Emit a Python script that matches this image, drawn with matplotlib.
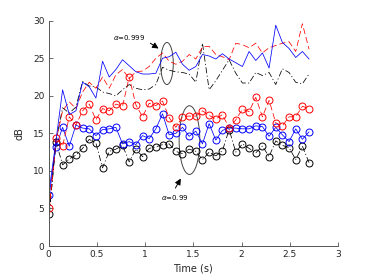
import matplotlib
matplotlib.use("Agg")
import matplotlib.pyplot as plt
from matplotlib.patches import Ellipse

time_s = [0.008, 0.077, 0.146, 0.215, 0.284, 0.353, 0.422, 0.491, 0.560, 0.629,
          0.698, 0.767, 0.836, 0.905, 0.974, 1.043, 1.112, 1.181, 1.250, 1.319,
          1.388, 1.457, 1.526, 1.595, 1.664, 1.733, 1.802, 1.871, 1.940, 2.009,
          2.078, 2.147, 2.216, 2.285, 2.354, 2.423, 2.492, 2.561, 2.630, 2.699]

# alpha = 0.999 (no markers)
blue_999 = [7.5, 14.0, 20.8, 17.5, 18.0, 21.8, 21.2, 19.7, 24.6, 22.5,
            23.5, 24.8, 24.0, 23.2, 22.9, 22.9, 23.0, 25.0, 25.2, 25.8,
            24.2, 23.4, 23.9, 25.5, 25.3, 24.9, 25.6, 24.9, 24.4, 23.9,
            25.9, 24.7, 25.7, 23.7, 29.4, 27.1, 26.3, 25.1, 25.9, 24.9]
red_999 = [5.0, 14.0, 18.0, 19.2, 18.3, 20.5, 21.8, 21.0, 22.5, 21.0,
           22.8, 23.5, 22.3, 23.2, 23.3, 23.9, 25.0, 25.7, 24.6, 24.2,
           24.6, 25.5, 24.9, 26.5, 26.6, 25.5, 25.2, 24.8, 27.0, 26.8,
           26.4, 27.0, 25.7, 26.4, 26.7, 27.0, 27.2, 25.9, 29.6, 26.2]
black_999 = [4.3, 14.0, 18.4, 17.7, 18.5, 21.9, 21.3, 21.2, 20.5, 20.3,
             20.0, 20.8, 21.5, 21.0, 20.8, 20.9, 21.5, 23.8, 23.4, 23.2,
             23.1, 22.9, 21.8, 27.0, 20.8, 22.0, 23.4, 24.8, 23.0, 21.7,
             21.7, 23.1, 22.7, 23.1, 21.5, 23.6, 23.1, 21.8, 21.6, 22.9]

# alpha = 0.99 (circle markers)
red_99 = [5.0, 14.4, 13.3, 17.2, 16.1, 18.0, 18.9, 16.8, 18.3, 18.0,
          18.9, 18.6, 22.5, 18.8, 17.2, 19.0, 18.7, 19.3, 17.1, 15.8,
          17.2, 17.3, 17.3, 18.0, 17.4, 16.9, 17.5, 15.7, 16.8, 18.2,
          17.9, 19.8, 17.2, 19.4, 16.4, 16.0, 17.2, 17.2, 18.6, 18.3]
blue_99 = [6.8, 13.2, 15.8, 13.3, 16.1, 15.7, 15.6, 14.7, 15.5, 15.6,
           15.8, 13.6, 13.9, 13.5, 14.7, 14.3, 15.6, 17.6, 14.8, 15.0,
           15.8, 14.6, 15.3, 13.6, 16.3, 14.1, 15.4, 15.7, 15.7, 15.6,
           15.6, 16.0, 15.9, 14.6, 15.8, 14.8, 13.9, 15.6, 14.2, 15.2]
black_99 = [4.3, 13.9, 10.8, 11.6, 12.1, 13.0, 14.2, 13.7, 10.4, 12.6,
            12.9, 13.4, 11.2, 12.9, 11.9, 13.0, 13.2, 13.5, 13.6, 12.6,
            12.3, 12.9, 12.6, 11.5, 12.5, 12.0, 12.7, 15.5, 12.5, 13.6,
            13.0, 12.4, 13.3, 11.9, 14.0, 13.4, 13.1, 11.5, 13.3, 11.1]

x_ticks = [0, 0.5, 1, 1.5, 2, 2.5, 3]
x_tick_labels = ["0", "0.5", "1", "1.5", "2", "2.5", "3"]
y_ticks = [0, 5, 10, 15, 20, 25, 30]

fig = plt.figure(figsize=(3.74, 2.80), dpi=100)
ax = fig.add_axes([0.1297, 0.1214, 0.7743, 0.8047])

lw = 0.55
ms = 5.0
dash = (8, 4)
dashdot = (8, 3, 1.5, 3)
ax.plot(time_s, black_99, color='black', lw=lw, marker='o', ms=ms,
        mfc='none', mew=0.7, dashes=dashdot)
ax.plot(time_s, blue_99, '-', color='#0000ff', lw=lw, marker='o', ms=ms,
        mfc='none', mew=0.7)
ax.plot(time_s, red_99, color='#ff0000', lw=lw, marker='o', ms=ms,
        mfc='none', mew=0.7, dashes=dash)
ax.plot(time_s, black_999, color='black', lw=lw, dashes=dashdot)
ax.plot(time_s, red_999, color='#ff0000', lw=lw, dashes=dash)
ax.plot(time_s, blue_999, '-', color='#0000ff', lw=lw)

ax.add_patch(Ellipse((1.227, 24.3), 0.131, 5.6, fill=False,
                     edgecolor='#444444', lw=0.7))
ax.add_patch(Ellipse((1.46, 14.1), 0.214, 9.15, fill=False,
                     edgecolor='#444444', lw=0.7))

ax.annotate('', xy=(1.165, 26.1), xytext=(1.03, 27.2),
            arrowprops=dict(arrowstyle='-|>', color='black', lw=0.7,
                            mutation_scale=9))
ax.text(0.668, 27.7, r'$\alpha$=0.999', fontsize=5, va='center', ha='left')
ax.annotate('', xy=(1.385, 9.3), xytext=(1.30, 7.4),
            arrowprops=dict(arrowstyle='-|>', color='black', lw=0.7,
                            mutation_scale=9))
ax.text(1.17, 6.44, r'$\alpha$=0.99', fontsize=5, va='center', ha='left')

ax.set_xlim(0, 3)
ax.set_ylim(0, 30)
ax.set_xticks(x_ticks)
ax.set_xticklabels(x_tick_labels)
ax.set_yticks(y_ticks)
for s in ['top', 'right']:
    ax.spines[s].set_visible(False)
for s in ['left', 'bottom']:
    ax.spines[s].set_color('#555555')
    ax.spines[s].set_linewidth(0.7)
ax.tick_params(direction='in', length=3, width=0.6, color='#555555',
               labelsize=6.5, labelcolor='#262626', pad=3)
ax.set_xlabel('Time (s)', fontsize=7, color='#262626', labelpad=3)
ax.set_ylabel('dB', fontsize=7, color='#262626', labelpad=6)

fig.savefig('out.png', dpi=100)
